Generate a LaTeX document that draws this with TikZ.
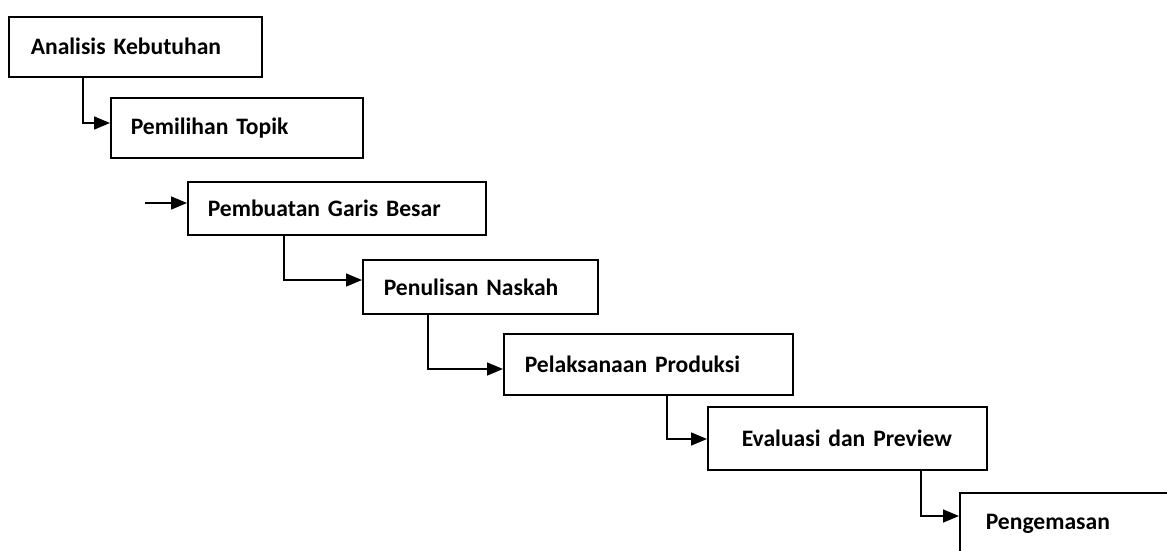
\documentclass[tikz,border=0pt]{standalone}
\usepackage{fontspec}
\setmainfont{Carlito}
\usepackage{tikz}
\usetikzlibrary{arrows.meta}

\begin{document}
\begin{tikzpicture}[x=1pt, y=-1pt,
    tahap/.style = {shape=rectangle, draw, line width=1.6pt,
      anchor=north west, align=left,
      font=\fontsize{23.6}{28}\selectfont\bfseries},
    panah/.style = {line width=1.6pt, -{Triangle[length=16pt,width=13pt]}}]
    \useasboundingbox (0,0) rectangle (1167,550);
    \clip (0,0) rectangle (1167,550);
    \node[tahap, minimum width=253pt, minimum height=60pt, inner xsep=22pt, text width=209pt] (analisis) at (8,16) {Analisis Kebutuhan};
    \node[tahap, minimum width=252pt, minimum height=60pt, inner xsep=20pt, text width=212pt] (topik) at (110,97) {Pemilihan Topik};
    \node[tahap, minimum width=298pt, minimum height=53pt, inner xsep=20pt, text width=258pt] (garis) at (187,181) {Pembuatan Garis Besar};
    \node[tahap, minimum width=235pt, minimum height=54pt, inner xsep=21pt, text width=193pt] (naskah) at (362,259) {Penulisan Naskah};
    \node[tahap, minimum width=289pt, minimum height=61pt, inner xsep=21pt, text width=247pt] (produksi) at (503,333) {Pelaksanaan Produksi};
    \node[tahap, minimum width=279pt, minimum height=63pt, inner xsep=34pt, text width=211pt] (evaluasi) at (707,406) {Evaluasi dan Preview};
    \node[tahap, minimum width=260pt, minimum height=62pt, inner xsep=26pt, text width=208pt] (kemas) at (959,492) {Pengemasan};
    \coordinate (masuk) at (145,203);
    \draw[panah] ([xshift=75pt]analisis.south west) |- ([yshift=-26pt]topik.north west);
    \draw[panah] (masuk) -- (masuk -| garis.west);
    \draw[panah] ([xshift=97pt]garis.south west) |- ([yshift=-21pt]naskah.north west);
    \draw[panah] ([xshift=66pt]naskah.south west) |- ([yshift=-36pt]produksi.north west);
    \draw[panah] ([xshift=164pt]produksi.south west) |- ([yshift=-33pt]evaluasi.north west);
    \draw[panah] ([xshift=214pt]evaluasi.south west) |- ([yshift=-24pt]kemas.north west);
\end{tikzpicture}
\end{document}
